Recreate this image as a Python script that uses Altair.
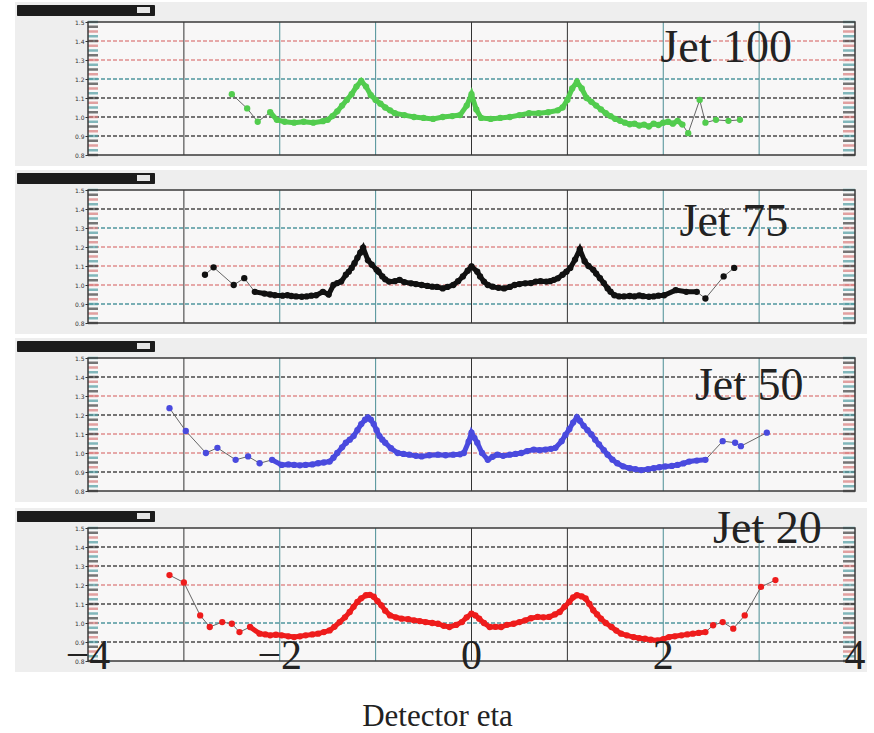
import altair as alt
import pandas as pd

# ---------------- data ----------------
jet100_eta = [-2.50, -2.34, -2.23, -2.10, -2.03, -1.95, -1.85, -1.75, -1.65, -1.55, -1.50, -1.45, -1.40,
              -1.35, -1.30, -1.25, -1.20, -1.15, -1.10, -1.05, -1.00, -0.95, -0.90, -0.85, -0.80, -0.70,
              -0.60, -0.50, -0.40, -0.30, -0.20, -0.12, -0.05, 0.00, 0.05, 0.10, 0.20, 0.30, 0.40, 0.50,
              0.60, 0.70, 0.80, 0.90, 0.95, 1.00, 1.05, 1.10, 1.15, 1.20, 1.25, 1.30, 1.35, 1.40, 1.45,
              1.50, 1.55, 1.60, 1.65, 1.70, 1.75, 1.80, 1.85, 1.90, 1.95, 2.00, 2.05, 2.10, 2.15, 2.20,
              2.26, 2.38, 2.44, 2.55, 2.68, 2.80]
jet100_val = [1.120, 1.045, 0.975, 1.025, 0.985, 0.975, 0.970, 0.975, 0.970, 0.978, 0.985, 1.005, 1.030,
              1.060, 1.090, 1.120, 1.160, 1.190, 1.160, 1.115, 1.090, 1.070, 1.050, 1.035, 1.020, 1.010,
              1.000, 0.995, 0.990, 1.000, 1.005, 1.010, 1.060, 1.120, 1.040, 0.995, 0.990, 0.995, 1.000,
              1.010, 1.020, 1.020, 1.025, 1.035, 1.050, 1.090, 1.150, 1.185, 1.150, 1.100, 1.080, 1.060,
              1.040, 1.020, 1.005, 0.990, 0.980, 0.970, 0.962, 0.965, 0.955, 0.960, 0.950, 0.965, 0.958,
              0.970, 0.975, 0.965, 0.980, 0.960, 0.915, 1.090, 0.970, 0.985, 0.980, 0.985]

jet75_eta = [-2.78, -2.69, -2.48, -2.37, -2.26, -2.16, -2.10, -2.05, -1.97, -1.92, -1.88, -1.83, -1.77,
             -1.72, -1.67, -1.62, -1.55, -1.49, -1.44, -1.40, -1.36, -1.31, -1.28, -1.25, -1.22, -1.19,
             -1.16, -1.13, -1.08, -1.04, -0.99, -0.97, -0.93, -0.90, -0.86, -0.80, -0.75, -0.70, -0.63,
             -0.58, -0.52, -0.46, -0.41, -0.36, -0.30, -0.25, -0.19, -0.14, -0.09, -0.04, 0.00, 0.06,
             0.09, 0.13, 0.17, 0.22, 0.28, 0.34, 0.40, 0.45, 0.50, 0.56, 0.62, 0.67, 0.72, 0.78, 0.82,
             0.86, 0.90, 0.95, 0.99, 1.03, 1.08, 1.13, 1.18, 1.22, 1.27, 1.30, 1.34, 1.38, 1.42, 1.45,
             1.49, 1.54, 1.59, 1.65, 1.70, 1.75, 1.79, 1.85, 1.90, 1.95, 2.01, 2.13, 2.24, 2.35, 2.44,
             2.63, 2.74]
jet75_val = [1.054, 1.093, 1.000, 1.036, 0.964, 0.955, 0.950, 0.946, 0.944, 0.946, 0.942, 0.940, 0.938,
             0.940, 0.944, 0.946, 0.964, 0.950, 1.000, 1.010, 1.018, 1.054, 1.070, 1.090, 1.115, 1.143,
             1.170, 1.196, 1.130, 1.107, 1.080, 1.070, 1.045, 1.030, 1.018, 1.020, 1.027, 1.015, 1.009,
             1.005, 1.000, 0.995, 0.991, 0.990, 0.982, 0.990, 1.000, 1.020, 1.045, 1.075, 1.098, 1.070,
             1.045, 1.018, 1.000, 0.991, 0.985, 0.982, 0.990, 1.000, 1.005, 1.009, 1.010, 1.018, 1.020,
             1.018, 1.020, 1.027, 1.035, 1.054, 1.070, 1.090, 1.134, 1.188, 1.125, 1.100, 1.080, 1.060,
             1.036, 1.010, 0.982, 0.965, 0.946, 0.940, 0.940, 0.942, 0.940, 0.945, 0.941, 0.938, 0.940,
             0.944, 0.946, 0.973, 0.964, 0.964, 0.929, 1.045, 1.090]

jet50_eta = [-3.15, -2.98, -2.77, -2.65, -2.46, -2.33, -2.21, -2.08, -1.98, -1.91, -1.85, -1.79, -1.73,
             -1.66, -1.60, -1.54, -1.48, -1.44, -1.40, -1.35, -1.31, -1.27, -1.23, -1.19, -1.15, -1.11,
             -1.08, -1.05, -1.02, -0.99, -0.96, -0.93, -0.90, -0.84, -0.77, -0.71, -0.65, -0.58, -0.52,
             -0.44, -0.35, -0.27, -0.19, -0.12, -0.08, -0.03, 0.00, 0.03, 0.06, 0.11, 0.17, 0.22, 0.27,
             0.33, 0.40, 0.46, 0.52, 0.58, 0.65, 0.71, 0.77, 0.83, 0.875, 0.94, 0.98, 1.02, 1.06, 1.10,
             1.13, 1.17, 1.21, 1.25, 1.29, 1.33, 1.38, 1.42, 1.47, 1.52, 1.58, 1.65, 1.71, 1.77, 1.84,
             1.90, 1.96, 2.02, 2.09, 2.15, 2.21, 2.27, 2.35, 2.44, 2.62, 2.75, 2.81, 3.08]
jet50_val = [1.236, 1.116, 1.000, 1.027, 0.964, 0.982, 0.946, 0.964, 0.9375, 0.940, 0.9375, 0.935, 0.9375,
             0.940, 0.946, 0.950, 0.955, 0.975, 1.000, 1.030, 1.054, 1.070, 1.089, 1.120, 1.152, 1.175,
             1.1875, 1.175, 1.152, 1.120, 1.089, 1.070, 1.054, 1.025, 1.000, 0.995, 0.991, 0.985, 0.982,
             0.988, 0.991, 0.988, 0.991, 0.993, 1.000, 1.060, 1.107, 1.080, 1.054, 1.000, 0.964, 0.980,
             0.991, 0.985, 0.991, 0.995, 1.000, 1.010, 1.018, 1.015, 1.018, 1.022, 1.027, 1.0625, 1.095,
             1.125, 1.160, 1.1875, 1.170, 1.143, 1.120, 1.098, 1.070, 1.045, 1.015, 0.991, 0.965, 0.946,
             0.930, 0.920, 0.915, 0.910, 0.915, 0.920, 0.925, 0.929, 0.932, 0.9375, 0.945, 0.955, 0.960,
             0.964, 1.0625, 1.054, 1.036, 1.107]

jet20_eta = [-3.15, -3.00, -2.83, -2.73, -2.60, -2.50, -2.42, -2.31, -2.21, -2.15, -2.10, -2.04, -1.98,
             -1.91, -1.85, -1.79, -1.73, -1.66, -1.60, -1.54, -1.48, -1.43, -1.375, -1.32, -1.27, -1.23,
             -1.19, -1.15, -1.10, -1.06, -1.02, -0.98, -0.94, -0.90, -0.85, -0.79, -0.73, -0.66, -0.60,
             -0.54, -0.48, -0.41, -0.35, -0.29, -0.23, -0.16, -0.10, -0.05, 0.00, 0.04, 0.08, 0.13, 0.19,
             0.25, 0.31, 0.37, 0.44, 0.50, 0.56, 0.62, 0.69, 0.75, 0.81, 0.87, 0.92, 0.97, 1.02, 1.06,
             1.10, 1.15, 1.19, 1.23, 1.27, 1.31, 1.35, 1.40, 1.46, 1.51, 1.56, 1.62, 1.69, 1.75, 1.81,
             1.87, 1.94, 2.00, 2.06, 2.12, 2.19, 2.25, 2.31, 2.37, 2.44, 2.52, 2.62, 2.73, 2.85, 3.02,
             3.17]
jet20_val = [1.252, 1.213, 1.040, 0.979, 1.005, 0.996, 0.952, 0.979, 0.944, 0.940, 0.935, 0.938, 0.935,
             0.930, 0.926, 0.930, 0.935, 0.940, 0.944, 0.952, 0.961, 0.980, 1.005, 1.030, 1.058, 1.085,
             1.111, 1.130, 1.146, 1.148, 1.138, 1.115, 1.093, 1.065, 1.040, 1.030, 1.023, 1.020, 1.014,
             1.010, 1.005, 1.000, 0.996, 0.985, 0.979, 0.990, 1.005, 1.030, 1.049, 1.040, 1.023, 1.000,
             0.979, 0.980, 0.979, 0.990, 0.996, 1.005, 1.014, 1.025, 1.032, 1.030, 1.032, 1.045, 1.058,
             1.085, 1.111, 1.135, 1.146, 1.140, 1.129, 1.100, 1.067, 1.045, 1.023, 1.000, 0.979, 0.960,
             0.944, 0.935, 0.926, 0.920, 0.917, 0.912, 0.908, 0.915, 0.926, 0.930, 0.935, 0.940, 0.944,
             0.948, 0.952, 0.988, 1.005, 0.970, 1.040, 1.190, 1.226]

panel_labels = ["Jet 100", "Jet 75", "Jet 50", "Jet 20"]
label_eta = [1.97, 2.17, 2.33, 2.52]
label_val = [1.289, 1.258, 1.279, 1.421]
series_colors = ["#52cc4e", "#111111", "#4a4ade", "#ee1c1c"]
core_ranges = [(-2.15, 2.22), (-2.30, 2.40), (-2.10, 2.45), (-2.35, 2.47)]

y_ticks = [0.8, 0.9, 1.0, 1.1, 1.2, 1.3, 1.4, 1.5]
hgrid_vals = [1.4, 1.3, 1.2, 1.1, 1.0, 0.9]
vgrid_vals = [-3, -2, -1, 0, 1, 2, 3]
minor_ticks = [0.8, 0.825, 0.85, 0.875, 0.9, 0.925, 0.95, 0.975, 1.0, 1.025, 1.05, 1.075, 1.1, 1.125,
               1.15, 1.175, 1.2, 1.225, 1.25, 1.275, 1.3, 1.325, 1.35, 1.375, 1.4, 1.425, 1.45, 1.475, 1.5]
bottom_tick_vals = [-4, -2, 0, 2, 4]
bottom_tick_text = ["\u22124", "\u22122", "0", "2", "4"]

RED, DARK, TEAL = "#df8f8f", "#4a4a4a", "#4f979e"
hgrid_colors = [
    [RED, RED, TEAL, DARK, DARK, DARK],
    [DARK, TEAL, RED, RED, RED, TEAL],
    [DARK, RED, DARK, RED, RED, DARK],
    [DARK, DARK, RED, DARK, TEAL, DARK],
]
vgrid_colors = ["#333333", "#4b8e95", "#4b8e95", "#333333", "#333333", "#4b8e95", "#4b8e95"]
minor_cycle = ["#3d3d3d", "#4f9aa0", "#d77a7a"]

W, H = 767, 133
SERIF = "Liberation Serif"


def panel(i):
    eta = [jet100_eta, jet75_eta, jet50_eta, jet20_eta][i]
    val = [jet100_val, jet75_val, jet50_val, jet20_val][i]
    color = series_colors[i]
    lo, hi = core_ranges[i]
    bottom = i == 3
    df = pd.DataFrame({"eta": eta, "val": val})

    xs = alt.Scale(domain=[-4, 4], nice=False, zero=False)
    ys = alt.Scale(domain=[0.8, 1.5], nice=False, zero=False)
    if bottom:
        xax = alt.Axis(title="Detector eta", labels=False, ticks=False, domain=False, grid=False,
                       titleFont=SERIF, titleFontSize=31, titleFontWeight="normal", titleColor="#222222",
                       titleX=349, titleY=64, titleAlign="center", titleBaseline="alphabetic", zindex=1)
    else:
        xax = None
    yax = alt.Axis(values=y_ticks, title=None, grid=False, domain=False, ticks=True, tickSize=3,
                   tickColor="#333333", labelFontSize=6, labelColor="#333333", labelPadding=1,
                   labelFont="DejaVu Sans", zindex=1)

    def X(f):
        return alt.X(f"{f}:Q", scale=xs, axis=xax)

    def Y(f):
        return alt.Y(f"{f}:Q", scale=ys, axis=yax)

    one = alt.Data(values=[{"a": 1}])
    bg = alt.Chart(one).mark_rect(color="#eeeeee").encode(
        x=alt.value(-73), x2=alt.value(779), y=alt.value(-20), y2=alt.value(144))
    inner = alt.Chart(one).mark_rect(color="#f8f7f7").encode(
        x=alt.value(0), x2=alt.value(W), y=alt.value(0), y2=alt.value(H))

    hg = alt.Chart(pd.DataFrame({"v": hgrid_vals, "c": hgrid_colors[i]})).mark_rule(
        strokeDash=[4, 2], strokeWidth=1.5).encode(y=Y("v"), color=alt.Color("c:N", scale=None))
    vg = alt.Chart(pd.DataFrame({"g": vgrid_vals, "c": vgrid_colors})).mark_rule(
        strokeWidth=1).encode(x=X("g"), color=alt.Color("c:N", scale=None))

    mt_df = pd.DataFrame({"v": minor_ticks,
                          "c": [minor_cycle[k % 3] for k in range(len(minor_ticks))]})
    mt_left = alt.Chart(mt_df).mark_tick(orient="horizontal", size=10, thickness=2.5).encode(
        x=alt.value(5), y=Y("v"), color=alt.Color("c:N", scale=None))
    mt_right = alt.Chart(mt_df).mark_tick(orient="horizontal", size=12, thickness=2.5).encode(
        x=alt.value(W - 6), y=Y("v"), color=alt.Color("c:N", scale=None))

    thin = alt.Chart(df).mark_line(color="#666666", strokeWidth=1).encode(x=X("eta"), y=Y("val"))
    core = alt.Chart(df).transform_filter(
        (alt.datum.eta >= lo) & (alt.datum.eta <= hi)
    ).mark_line(color=color, strokeWidth=5).encode(x=X("eta"), y=Y("val"))
    pts = alt.Chart(df).mark_point(filled=True, size=40, opacity=1, color=color, shape="circle").encode(
        x=X("eta"), y=Y("val"))

    frame = alt.Chart(one).mark_rect(fillOpacity=0, stroke="#3a3a3a", strokeWidth=1.5).encode(
        x=alt.value(0), x2=alt.value(W), y=alt.value(0), y2=alt.value(H))

    lab = alt.Chart(pd.DataFrame({"eta": [label_eta[i]], "val": [label_val[i]],
                                  "t": [panel_labels[i]]})).mark_text(
        align="left", baseline="alphabetic", font=SERIF, fontSize=46, color="#222222").encode(
        x=X("eta"), y=Y("val"), text="t:N")

    box = alt.Chart(one).mark_rect(color="#1c1c1c", cornerRadius=1).encode(
        x=alt.value(-71), x2=alt.value(67), y=alt.value(-17), y2=alt.value(-6))
    box_in = alt.Chart(one).mark_rect(color="#e6e6e6").encode(
        x=alt.value(49), x2=alt.value(62), y=alt.value(-15), y2=alt.value(-9))

    layers = [bg, inner, hg, vg, mt_left, mt_right, thin, core, pts, frame, lab, box, box_in]
    if bottom:
        bt = alt.Chart(pd.DataFrame({"eta": bottom_tick_vals, "t": bottom_tick_text})).mark_text(
            align="center", baseline="alphabetic", font=SERIF, fontSize=42, color="#222222").encode(
            x=X("eta"), y=alt.value(141), text="t:N")
        layers.append(bt)
    return alt.layer(*layers).properties(width=W, height=H)


chart = alt.vconcat(*[panel(i) for i in range(4)], spacing=4).properties(
    padding={"left": 15, "top": 2, "right": 0, "bottom": 6},
    background="white",
).configure_view(stroke=None)

chart.save("out.html", embed_options={"renderer": "svg", "actions": False})
